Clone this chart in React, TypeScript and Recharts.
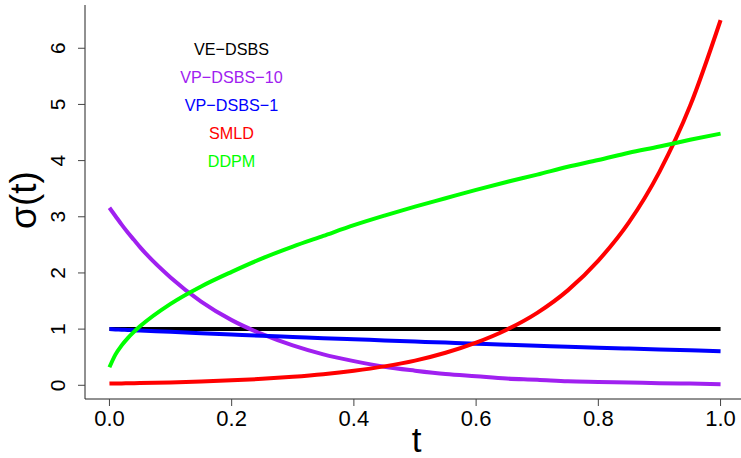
import { LineChart, Line, XAxis, YAxis, Legend } from 'recharts'

// time grid (denser near 0 where DDPM rises fast)
const tValues = [0, 0.01, 0.02, 0.03, 0.04, 0.05, 0.1, 0.15, 0.2, 0.25, 0.3, 0.35, 0.4, 0.45, 0.5, 0.55, 0.6, 0.65, 0.7, 0.75, 0.8, 0.85, 0.9, 0.95, 1.0]

const veDsbs = [1, 1, 1, 1, 1, 1, 1, 1, 1, 1, 1, 1, 1, 1, 1, 1, 1, 1, 1, 1, 1, 1, 1, 1, 1]
const vpDsbs10 = [3.16, 3.01, 2.86, 2.72, 2.59, 2.46, 1.92, 1.49, 1.16, 0.91, 0.71, 0.55, 0.43, 0.33, 0.26, 0.2, 0.16, 0.12, 0.1, 0.07, 0.06, 0.05, 0.035, 0.03, 0.02]
const vpDsbs1 = [1, 0.995, 0.99, 0.985, 0.98, 0.975, 0.951, 0.928, 0.905, 0.882, 0.861, 0.839, 0.819, 0.799, 0.779, 0.76, 0.741, 0.723, 0.705, 0.687, 0.67, 0.654, 0.638, 0.622, 0.607]
const smld = [0.03, 0.032, 0.033, 0.035, 0.037, 0.039, 0.051, 0.067, 0.088, 0.115, 0.151, 0.197, 0.258, 0.337, 0.44, 0.58, 0.76, 0.99, 1.29, 1.69, 2.22, 2.9, 3.8, 4.97, 6.5]
const ddpm = [0.32, 0.55, 0.71, 0.84, 0.95, 1.05, 1.45, 1.76, 2.02, 2.26, 2.47, 2.66, 2.85, 3.02, 3.18, 3.33, 3.48, 3.62, 3.75, 3.89, 4.01, 4.14, 4.25, 4.37, 4.48]

const xTicks = [0, 0.2, 0.4, 0.6, 0.8, 1.0]
const yTicks = [0, 1, 2, 3, 4, 5, 6]

const series = [
  { key: 've', name: 'VE−DSBS', color: '#000000', values: veDsbs },
  { key: 'vp10', name: 'VP−DSBS−10', color: '#A020F0', values: vpDsbs10 },
  { key: 'vp1', name: 'VP−DSBS−1', color: '#0000FF', values: vpDsbs1 },
  { key: 'smld', name: 'SMLD', color: '#FF0000', values: smld },
  { key: 'ddpm', name: 'DDPM', color: '#00FF00', values: ddpm },
]

const data = tValues.map((t, i) => {
  const row: any = { t }
  series.forEach(s => { row[s.key] = s.values[i] })
  return row
})

const FONT = '"Liberation Sans", Arial, Helvetica, sans-serif'

const XTick = ({ x, payload }: any) => (
  <text x={x} y={425.5} textAnchor="middle" fontSize={22} fontFamily={FONT} fill="#000">
    {Number(payload.value).toFixed(1)}
  </text>
)

const YTick = ({ y, payload }: any) => (
  <g transform={`translate(64.5,${y})`}>
    <text transform="rotate(-90)" textAnchor="middle" fontSize={21} fontFamily={FONT} fill="#000">
      {payload.value}
    </text>
  </g>
)

const XTitle = () => (
  <text x={416.5} y={452} textAnchor="middle" fontSize={35} fontFamily={FONT} fill="#000">t</text>
)

const YTitle = () => (
  <g transform="translate(36,200)">
    <text transform="rotate(-90)" textAnchor="middle" fontSize={37} fontFamily={FONT} fill="#000">σ(t)</text>
  </g>
)

const renderLegend = () => (
  <div style={{ fontFamily: FONT, fontSize: 17, textAlign: 'center' }}>
    {series.map(s => (
      <div key={s.key} style={{ color: s.color, height: 28.2, lineHeight: '28.2px', transform: 'scaleX(0.95)' }}>
        {s.name}
      </div>
    ))}
  </div>
)

export default function App() {
  return (
    <div style={{ position: 'absolute', left: 0, top: 0, width: 741, height: 458, overflow: 'hidden', background: '#fff' }}>
      <LineChart width={746} height={458} data={data} margin={{ top: 5, right: 1, bottom: 0, left: 0 }}>
        <XAxis
          dataKey="t"
          type="number"
          domain={[-0.04, 1.04]}
          ticks={xTicks}
          tick={<XTick />}
          tickSize={7}
          tickLine={{ stroke: '#444' }}
          axisLine={{ stroke: '#222' }}
          allowDataOverflow
          height={59}
          label={<XTitle />}
        />
        <XAxis xAxisId="top" orientation="top" dataKey="t" type="number" domain={[-0.04, 1.04]} tick={false} tickLine={false} axisLine={{ stroke: '#444' }} height={0} />
        <YAxis
          type="number"
          domain={[-0.244, 6.77]}
          ticks={yTicks}
          tick={<YTick />}
          tickSize={7}
          tickLine={{ stroke: '#444' }}
          axisLine={{ stroke: '#222' }}
          allowDataOverflow
          width={85}
          label={<YTitle />}
        />
        <Legend
          layout="vertical"
          align="center"
          verticalAlign="middle"
          content={renderLegend}
          wrapperStyle={{ left: 149, top: 35.6, width: 165, height: 141 }}
        />
        {series.map(s => (
          <Line
            key={s.key}
            type="monotone"
            dataKey={s.key}
            name={s.name}
            stroke={s.color}
            strokeWidth={4}
            dot={false}
            isAnimationActive={false}
          />
        ))}
      </LineChart>
    </div>
  )
}
